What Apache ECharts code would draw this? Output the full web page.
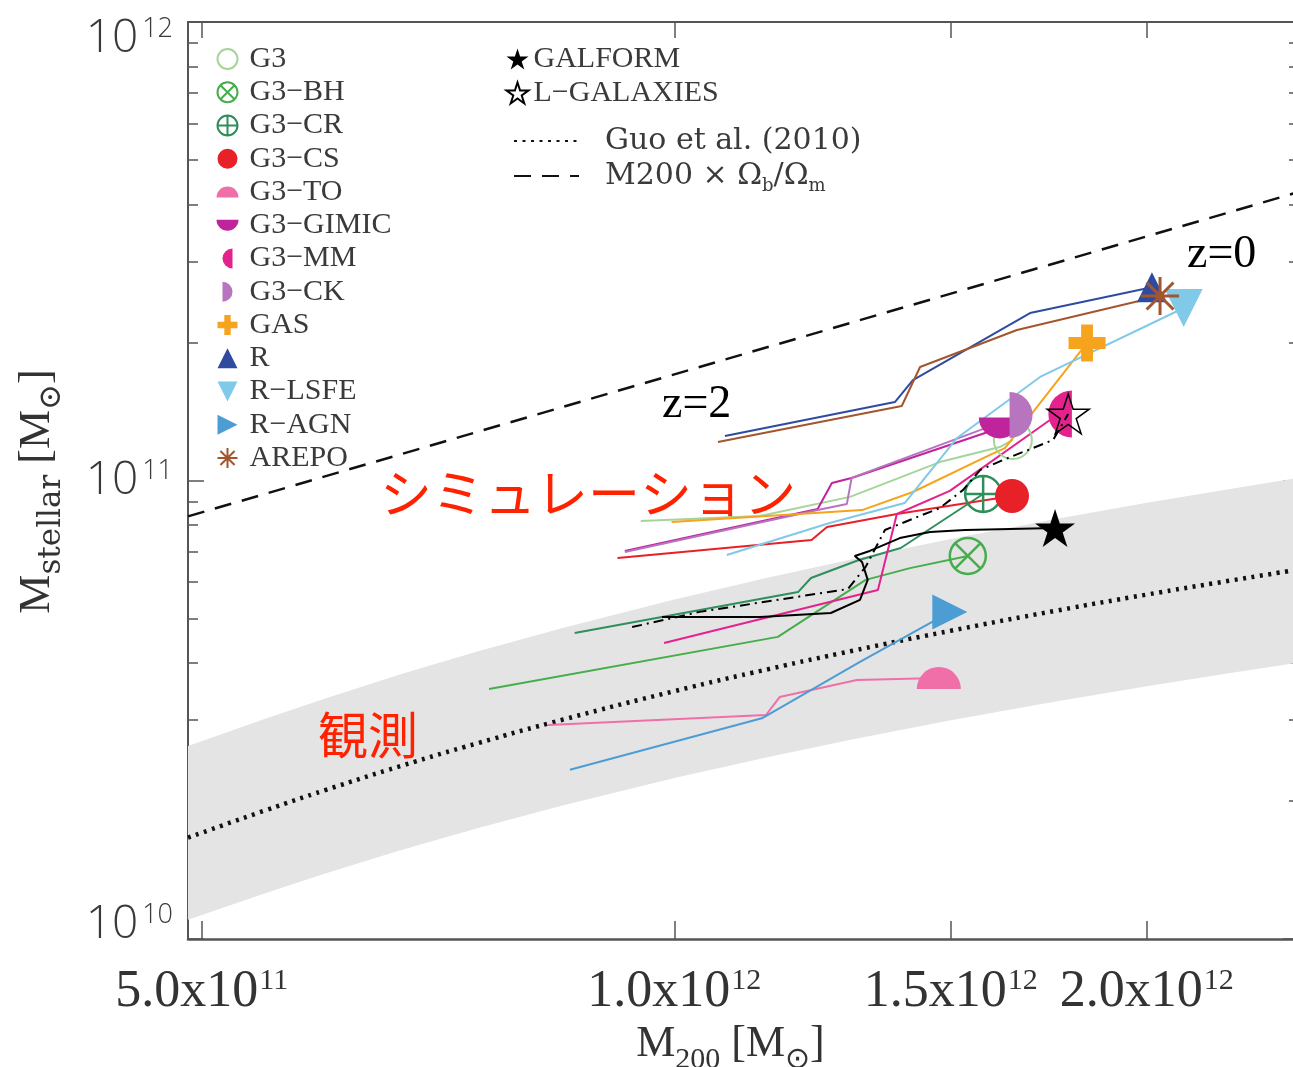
<!DOCTYPE html>
<html>
<head>
<meta charset="utf-8">
<script src="https://cdn.jsdelivr.net/npm/echarts@6/dist/echarts.min.js"></script>
<style>
html, body { margin: 0; padding: 0; background: #fff; }
#chart { width: 1293px; height: 1067px; }
</style>
</head>
<body>
<div id="chart"></div>
<script>
// Halo mass M200 is given in units of 1e12 Msun, stellar mass in units of 1e11 Msun.
const M200_UNIT = 1e12;
const MSTAR_UNIT = 1e11;

// Axis ticks
const xTickValues = [5e11, 1e12, 1.5e12, 2e12];
const xTickLabels = [['5.0x10', '11'], ['1.0x10', '12'], ['1.5x10', '12'], ['2.0x10', '12']];
const yMajorTicks = [1e10, 1e11, 1e12];
const yMinorTicks = [2e10, 3e10, 4e10, 5e10, 6e10, 7e10, 8e10, 9e10,
                     2e11, 3e11, 4e11, 5e11, 6e11, 7e11, 8e11, 9e11];

// Abundance-matching relation (Guo et al. 2010) and its scatter band
const relM200   = [0.49, 0.55, 0.60, 0.67, 0.75, 0.85, 1.00, 1.15, 1.30, 1.50, 1.75, 2.00, 2.25, 2.50];
const guoMstar  = [0.1663, 0.1913, 0.2115, 0.2386, 0.2675, 0.3012, 0.3472, 0.3883, 0.4255, 0.4702, 0.5199, 0.5639, 0.6034, 0.6396];
const bandUpper = [0.2636, 0.3032, 0.3352, 0.3782, 0.4240, 0.4774, 0.5503, 0.6155, 0.6744, 0.7453, 0.8240, 0.8938, 0.9564, 1.0138];
const bandLower = [0.1101, 0.1262, 0.1391, 0.1564, 0.1746, 0.1958, 0.2244, 0.2498, 0.2726, 0.2998, 0.3297, 0.3560, 0.3794, 0.4008];

// Universal baryon fraction line
const baryonM200  = [0.49, 2.50];
const baryonMstar = [0.835, 4.26];

// Evolution tracks from z=2 to z=0: [M200, Mstellar]; the last point is z=0
const trackG3     = [[0.952, 0.816], [1.134, 0.837], [1.294, 0.921], [1.476, 1.097], [1.612, 1.183], [1.643, 1.226]];
const trackG3BH   = [[0.762, 0.351], [1.164, 0.456], [1.324, 0.607], [1.413, 0.644], [1.538, 0.6845]];
const trackG3CR   = [[0.864, 0.465], [1.199, 0.571], [1.222, 0.613], [1.311, 0.671], [1.394, 0.7125], [1.573, 0.9345]];
const trackG3CS   = [[0.920, 0.678], [1.223, 0.742], [1.251, 0.792], [1.386, 0.845], [1.641, 0.925]];
const trackG3TO   = [[0.831, 0.293], [1.144, 0.308], [1.167, 0.337], [1.307, 0.367], [1.474, 0.371]];
const trackG3GIMIC= [[0.930, 0.702], [1.234, 0.867], [1.260, 0.9875], [1.297, 1.013], [1.612, 1.302]];
const trackG3MM   = [[0.985, 0.442], [1.348, 0.577], [1.386, 0.845], [1.498, 0.949], [1.735, 1.355], [1.761, 1.397]];
const trackG3CK   = [[0.930, 0.698], [1.234, 0.862], [1.288, 0.889], [1.297, 1.013], [1.663, 1.390]];
const trackGAS    = [[0.996, 0.812], [1.317, 0.862], [1.419, 0.944], [1.589, 1.137], [1.624, 1.177], [1.832, 1.995]];
const trackR      = [[1.077, 1.250], [1.382, 1.483], [1.419, 1.656], [1.685, 2.319], [2.015, 2.640]];
const trackRLSFE  = [[1.080, 0.688], [1.256, 0.808], [1.402, 0.893], [1.514, 1.238], [1.710, 1.682], [2.111, 2.378]];
const trackRAGN   = [[0.858, 0.234], [1.137, 0.303], [1.313, 0.402], [1.498, 0.5166]];
const trackAREPO  = [[1.066, 1.213], [1.396, 1.454], [1.434, 1.768], [1.653, 2.129], [2.039, 2.526]];
const trackGALFORM= [[0.982, 0.504], [1.134, 0.504], [1.258, 0.514], [1.313, 0.549], [1.328, 0.607], [1.317, 0.664],
                     [1.303, 0.6845], [1.332, 0.702], [1.392, 0.749], [1.455, 0.772], [1.532, 0.780], [1.748, 0.788]];
const trackLGAL   = [[0.940, 0.479], [1.038, 0.517], [1.290, 0.580], [1.324, 0.648], [1.362, 0.780], [1.476, 0.871],
                     [1.527, 0.953], [1.566, 1.054], [1.619, 1.108], [1.743, 1.226], [1.761, 1.302], [1.782, 1.397]];

// ---- marker shapes ----
const P_CIRCLE = 'path://M0,50 A50,50 0 1,0 100,50 A50,50 0 1,0 0,50 Z';
const P_CIRCLE_X = P_CIRCLE + ' M14.6,14.6 L85.4,85.4 M85.4,14.6 L14.6,85.4';
const P_CIRCLE_PLUS = P_CIRCLE + ' M50,0 L50,100 M0,50 L100,50';
const P_HALF_UP = 'path://M0,50 A50,50 0 0,1 100,50 Z';
const P_HALF_DOWN = 'path://M0,0 A50,50 0 0,0 100,0 Z';
const P_HALF_LEFT = 'path://M50,0 A50,50 0 0,0 50,100 Z';
const P_HALF_RIGHT = 'path://M0,0 A50,50 0 0,1 0,100 Z';
const P_PLUS = 'path://M34,0 H66 V34 H100 V66 H66 V100 H34 V66 H0 V34 H34 Z';
const P_TRI_UP = 'path://M50,0 L100,100 L0,100 Z';
const P_TRI_DOWN = 'path://M0,0 L100,0 L50,100 Z';
const P_TRI_RIGHT = 'path://M0,0 L100,50 L0,100 Z';
const P_ASTERISK = 'path://M50,0 L50,100 M0,50 L100,50 M14.6,14.6 L85.4,85.4 M85.4,14.6 L14.6,85.4';
const P_STAR = 'path://M50,0 L61.23,34.55 L97.55,34.55 L68.17,55.9 L79.39,90.45 L50,69.1 L20.61,90.45 L31.83,55.9 L2.45,34.55 L38.77,34.55 Z';

const sims = [
  { name: 'G3',       track: trackG3,      color: '#a6d59a', symbol: P_CIRCLE,      size: 38, open: true, bw: 2 },
  { name: 'G3−BH',    track: trackG3BH,    color: '#46ad4c', symbol: P_CIRCLE_X,    size: 36, open: true, bw: 2.5 },
  { name: 'G3−CR',    track: trackG3CR,    color: '#2f8f5b', symbol: P_CIRCLE_PLUS, size: 36, open: true, bw: 2.5 },
  { name: 'G3−CS',    track: trackG3CS,    color: '#e82028', symbol: P_CIRCLE,      size: 34 },
  { name: 'G3−TO',    track: trackG3TO,    color: '#f06fa8', symbol: P_HALF_UP,     size: 44 },
  { name: 'G3−GIMIC', track: trackG3GIMIC, color: '#c0249c', symbol: P_HALF_DOWN,   size: 42 },
  { name: 'G3−MM',    track: trackG3MM,    color: '#e4228e', symbol: P_HALF_LEFT,   size: 47 },
  { name: 'G3−CK',    track: trackG3CK,    color: '#b774bf', symbol: P_HALF_RIGHT,  size: 46 },
  { name: 'GAS',      track: trackGAS,     color: '#f6a31d', symbol: P_PLUS,        size: 37 },
  { name: 'R',        track: trackR,       color: '#2f4ba0', symbol: P_TRI_UP,      size: 30 },
  { name: 'R−LSFE',   track: trackRLSFE,   color: '#80c9e9', symbol: P_TRI_DOWN,    size: 38 },
  { name: 'R−AGN',    track: trackRAGN,    color: '#4b9dd4', symbol: P_TRI_RIGHT,   size: 35 },
  { name: 'AREPO',    track: trackAREPO,   color: '#a3562e', symbol: P_ASTERISK,    size: 38, open: true, bw: 3 }
];

const toXY = p => [p[0] * M200_UNIT, p[1] * MSTAR_UNIT];

const LSERIF = "'Liberation Serif', serif";
const DSERIF = "'DejaVu Serif', 'Liberation Serif', serif";
const LIGHT_SANS = "'Open Sans', 'Liberation Sans', sans-serif";
const CJK = "'Noto Sans CJK JP', sans-serif";
const TEXT = '#333';
const LEGEND_TEXT = '#3a3a3a';
const AXIS = '#555';
const NO_FILL = 'rgba(0,0,0,0)';

const series = [];

// Observational scatter band
series.push({
  type: 'custom',
  name: 'band',
  coordinateSystem: 'cartesian2d',
  silent: true,
  clip: true,
  z: 1,
  data: [[relM200[0] * M200_UNIT, guoMstar[0] * MSTAR_UNIT]],
  renderItem: (params, api) => {
    const pts = [];
    for (let i = 0; i < relM200.length; i++) pts.push(api.coord([relM200[i] * M200_UNIT, bandUpper[i] * MSTAR_UNIT]));
    for (let i = relM200.length - 1; i >= 0; i--) pts.push(api.coord([relM200[i] * M200_UNIT, bandLower[i] * MSTAR_UNIT]));
    return { type: 'polygon', shape: { points: pts }, style: { fill: '#e4e4e4' } };
  }
});

series.push({
  type: 'line', name: 'Guo et al. (2010)', z: 2,
  data: relM200.map((m, i) => [m * M200_UNIT, guoMstar[i] * MSTAR_UNIT]),
  symbol: 'none', smooth: true,
  itemStyle: { color: NO_FILL },
  lineStyle: { color: '#111', width: 4.5, type: [3, 5.5] }
});

series.push({
  type: 'line', name: 'M200 × Ωb/Ωm', z: 2,
  data: baryonM200.map((m, i) => [m * M200_UNIT, baryonMstar[i] * MSTAR_UNIT]),
  symbol: 'none',
  itemStyle: { color: NO_FILL },
  lineStyle: { color: '#111', width: 2.5, type: [17, 11] }
});

sims.forEach(s => {
  series.push({
    type: 'line', name: s.name + ' track', z: 3,
    data: s.track.map(toXY), symbol: 'none',
    lineStyle: { color: s.color, width: 2 }
  });
  series.push({
    type: 'scatter', name: s.name, z: 3,
    data: [toXY(s.track[s.track.length - 1])],
    symbol: s.symbol, symbolSize: s.size, symbolKeepAspect: true,
    itemStyle: s.open
      ? { color: 'none', borderColor: s.color, borderWidth: s.bw, opacity: 1 }
      : { color: s.color, opacity: 1 }
  });
});

// Semi-analytic models
series.push({
  type: 'line', name: 'GALFORM track', z: 4,
  data: trackGALFORM.map(toXY), symbol: 'none',
  lineStyle: { color: '#000', width: 2 }
});
series.push({
  type: 'scatter', name: 'GALFORM', z: 4,
  data: [toXY(trackGALFORM[trackGALFORM.length - 1])],
  symbol: P_STAR, symbolSize: 40, symbolKeepAspect: true,
  itemStyle: { color: '#000', opacity: 1 }
});
series.push({
  type: 'line', name: 'L−GALAXIES track', z: 4,
  data: trackLGAL.map(toXY), symbol: 'none',
  lineStyle: { color: '#000', width: 2, type: [10, 5, 2, 5] }
});
series.push({
  type: 'scatter', name: 'L−GALAXIES', z: 4,
  data: [toXY(trackLGAL[trackLGAL.length - 1])],
  symbol: P_STAR, symbolSize: 42, symbolKeepAspect: true,
  itemStyle: { color: 'none', borderColor: '#000', borderWidth: 1.5, opacity: 1 }
});

const supRich = (size, base) => ({
  b: { fontFamily: base.family, fontSize: base.size, lineHeight: base.size, color: base.color, fontWeight: base.weight || 'normal' },
  s: { fontFamily: base.family, fontSize: size, lineHeight: size, color: base.color, verticalAlign: 'top',
       fontWeight: base.weight || 'normal', padding: [0, 0, 0, base.gap || 0] }
});

const subRich = (subFamily, subSize) => ({
  m: { fontFamily: LSERIF, fontSize: 44, lineHeight: 44, color: TEXT },
  sub: { fontFamily: subFamily, fontSize: subSize, lineHeight: subSize, color: TEXT, verticalAlign: 'bottom', padding: [0, 0, -8, 0] }
});

const tickLine = { color: AXIS, width: 1.5 };
const yLabelRich = supRich(27, { family: LIGHT_SANS, size: 46, weight: 300, color: '#3a3a3a', gap: 4 });
const yLabelFmt = v => '{b|10}{s|' + Math.round(Math.log10(v)) + '}';
const yRange = { type: 'log', logBase: 10, min: 1e10, max: 1e12, splitLine: { show: false } };
const Y_LABEL_MARGIN = 15;

// y axes that only carry one power-of-ten label each, so every label can sit where it belongs
const yLabelAxis = (value, padding) => Object.assign({}, yRange, {
  position: 'left',
  axisLine: { show: false }, axisTick: { show: false },
  axisLabel: { show: true, margin: Y_LABEL_MARGIN, customValues: [value], formatter: yLabelFmt, rich: yLabelRich, padding: padding }
});

const annotation = (x, y, text, font, size, color) => ({
  type: 'text', x: x, y: y, z: 5, silent: true,
  style: { text: text, fontFamily: font, fontSize: size, fill: color, verticalAlign: 'middle', textVerticalAlign: 'middle' }
});

const option = {
  animation: false,
  backgroundColor: '#fff',
  grid: { left: 188, top: 22, right: -6, bottom: 128, containLabel: false, outerBoundsMode: 'none' },
  xAxis: [
    {
      type: 'log', logBase: 10, min: 4.9e11, max: 2.5e12, position: 'bottom',
      axisLine: { show: true, lineStyle: { color: AXIS, width: 2.5 } },
      axisTick: { show: true, inside: true, length: 18, customValues: xTickValues, lineStyle: tickLine },
      axisLabel: {
        show: true, customValues: xTickValues, margin: 27, hideOverlap: false,
        formatter: v => {
          let k = 0;
          xTickValues.forEach((t, i) => { if (Math.abs(t - v) / t < 1e-6) k = i; });
          return '{b|' + xTickLabels[k][0] + '}{s|' + xTickLabels[k][1] + '}';
        },
        rich: supRich(30, { family: LSERIF, size: 52, color: TEXT, gap: 1 })
      },
      splitLine: { show: false },
      name: '{m|M}{sub|200}{m| [M}{sub|⊙}{m|]}',
      nameLocation: 'middle', nameGap: 80,
      nameTextStyle: { rich: subRich(LSERIF, 30), padding: [0, 26, 0, 0] }
    },
    {
      type: 'log', logBase: 10, min: 4.9e11, max: 2.5e12, position: 'top',
      axisLine: { show: true, lineStyle: { color: AXIS, width: 2 } },
      axisTick: { show: true, inside: true, length: 16, customValues: xTickValues, lineStyle: tickLine },
      axisLabel: { show: false }, splitLine: { show: false }
    }
  ],
  yAxis: [
    Object.assign({}, yRange, {
      position: 'left',
      axisLine: { show: true, lineStyle: { color: AXIS, width: 2 } },
      axisTick: { show: true, inside: true, length: 16, customValues: yMajorTicks, lineStyle: tickLine },
      axisLabel: { show: true, margin: Y_LABEL_MARGIN, customValues: [1e11], formatter: yLabelFmt, rich: yLabelRich },
      name: '{m|M}{sub|stellar}{m| [M}{sub|⊙}{m|]}',
      nameLocation: 'middle', nameRotate: 90, nameGap: 129,
      nameTextStyle: { rich: subRich(DSERIF, 31), padding: [0, 22, 0, 0] }
    }),
    Object.assign({}, yRange, {
      position: 'left',
      axisLine: { show: false },
      axisTick: { show: true, inside: true, length: 10, customValues: yMinorTicks, lineStyle: tickLine },
      axisLabel: { show: false }
    }),
    Object.assign({}, yRange, {
      position: 'right',
      axisLine: { show: true, lineStyle: { color: AXIS, width: 2 } },
      axisTick: { show: true, inside: true, length: 16, customValues: yMajorTicks, lineStyle: tickLine },
      axisLabel: { show: false }
    }),
    Object.assign({}, yRange, {
      position: 'right',
      axisLine: { show: false },
      axisTick: { show: true, inside: true, length: 10, customValues: yMinorTicks, lineStyle: tickLine },
      axisLabel: { show: false }
    }),
    yLabelAxis(1e12, [33, 0, 0, 0]),
    yLabelAxis(1e10, [0, 0, 28, 0])
  ],
  legend: [
    {
      data: sims.map(s => s.name),
      orient: 'vertical', left: 210, top: 39,
      itemWidth: 22, itemHeight: 20, itemGap: 3.25,
      selectedMode: false,
      formatter: n => '\u2009' + n,
      textStyle: { fontFamily: LSERIF, fontSize: 30, lineHeight: 26, color: LEGEND_TEXT }
    },
    {
      data: ['GALFORM', 'L−GALAXIES'],
      orient: 'vertical', left: 499, top: 39,
      itemWidth: 22, itemHeight: 22, itemGap: 4,
      selectedMode: false,
      textStyle: { fontFamily: LSERIF, fontSize: 30, lineHeight: 26, color: LEGEND_TEXT }
    },
    {
      data: ['Guo et al. (2010)', 'M200 × Ωb/Ωm'],
      orient: 'vertical', left: 508, top: 121,
      itemWidth: 65, itemHeight: 14, itemGap: 5,
      selectedMode: false,
      formatter: n => n === 'M200 × Ωb/Ωm'
        ? '\u2002\u2009M200 × Ω{s|b}/Ω{s|m}'
        : '\u2002\u2009' + n,
      textStyle: {
        fontFamily: DSERIF, fontSize: 30, lineHeight: 26, color: LEGEND_TEXT,
        rich: { s: { fontFamily: DSERIF, fontSize: 18, lineHeight: 18, color: LEGEND_TEXT, verticalAlign: 'bottom', padding: [0, 0, -6, 0] } }
      }
    }
  ],
  graphic: [
    annotation(380, 493, 'シミュレーション', CJK, 52, '#ff2200'),
    annotation(318, 735, '観測', CJK, 50, '#ff2200'),
    annotation(662, 405, 'z=2', LSERIF, 46, '#000'),
    annotation(1187, 255, 'z=0', LSERIF, 46, '#000')
  ],
  series: series
};

const chart = echarts.init(document.getElementById('chart'));
chart.setOption(option);
</script>
</body>
</html>
